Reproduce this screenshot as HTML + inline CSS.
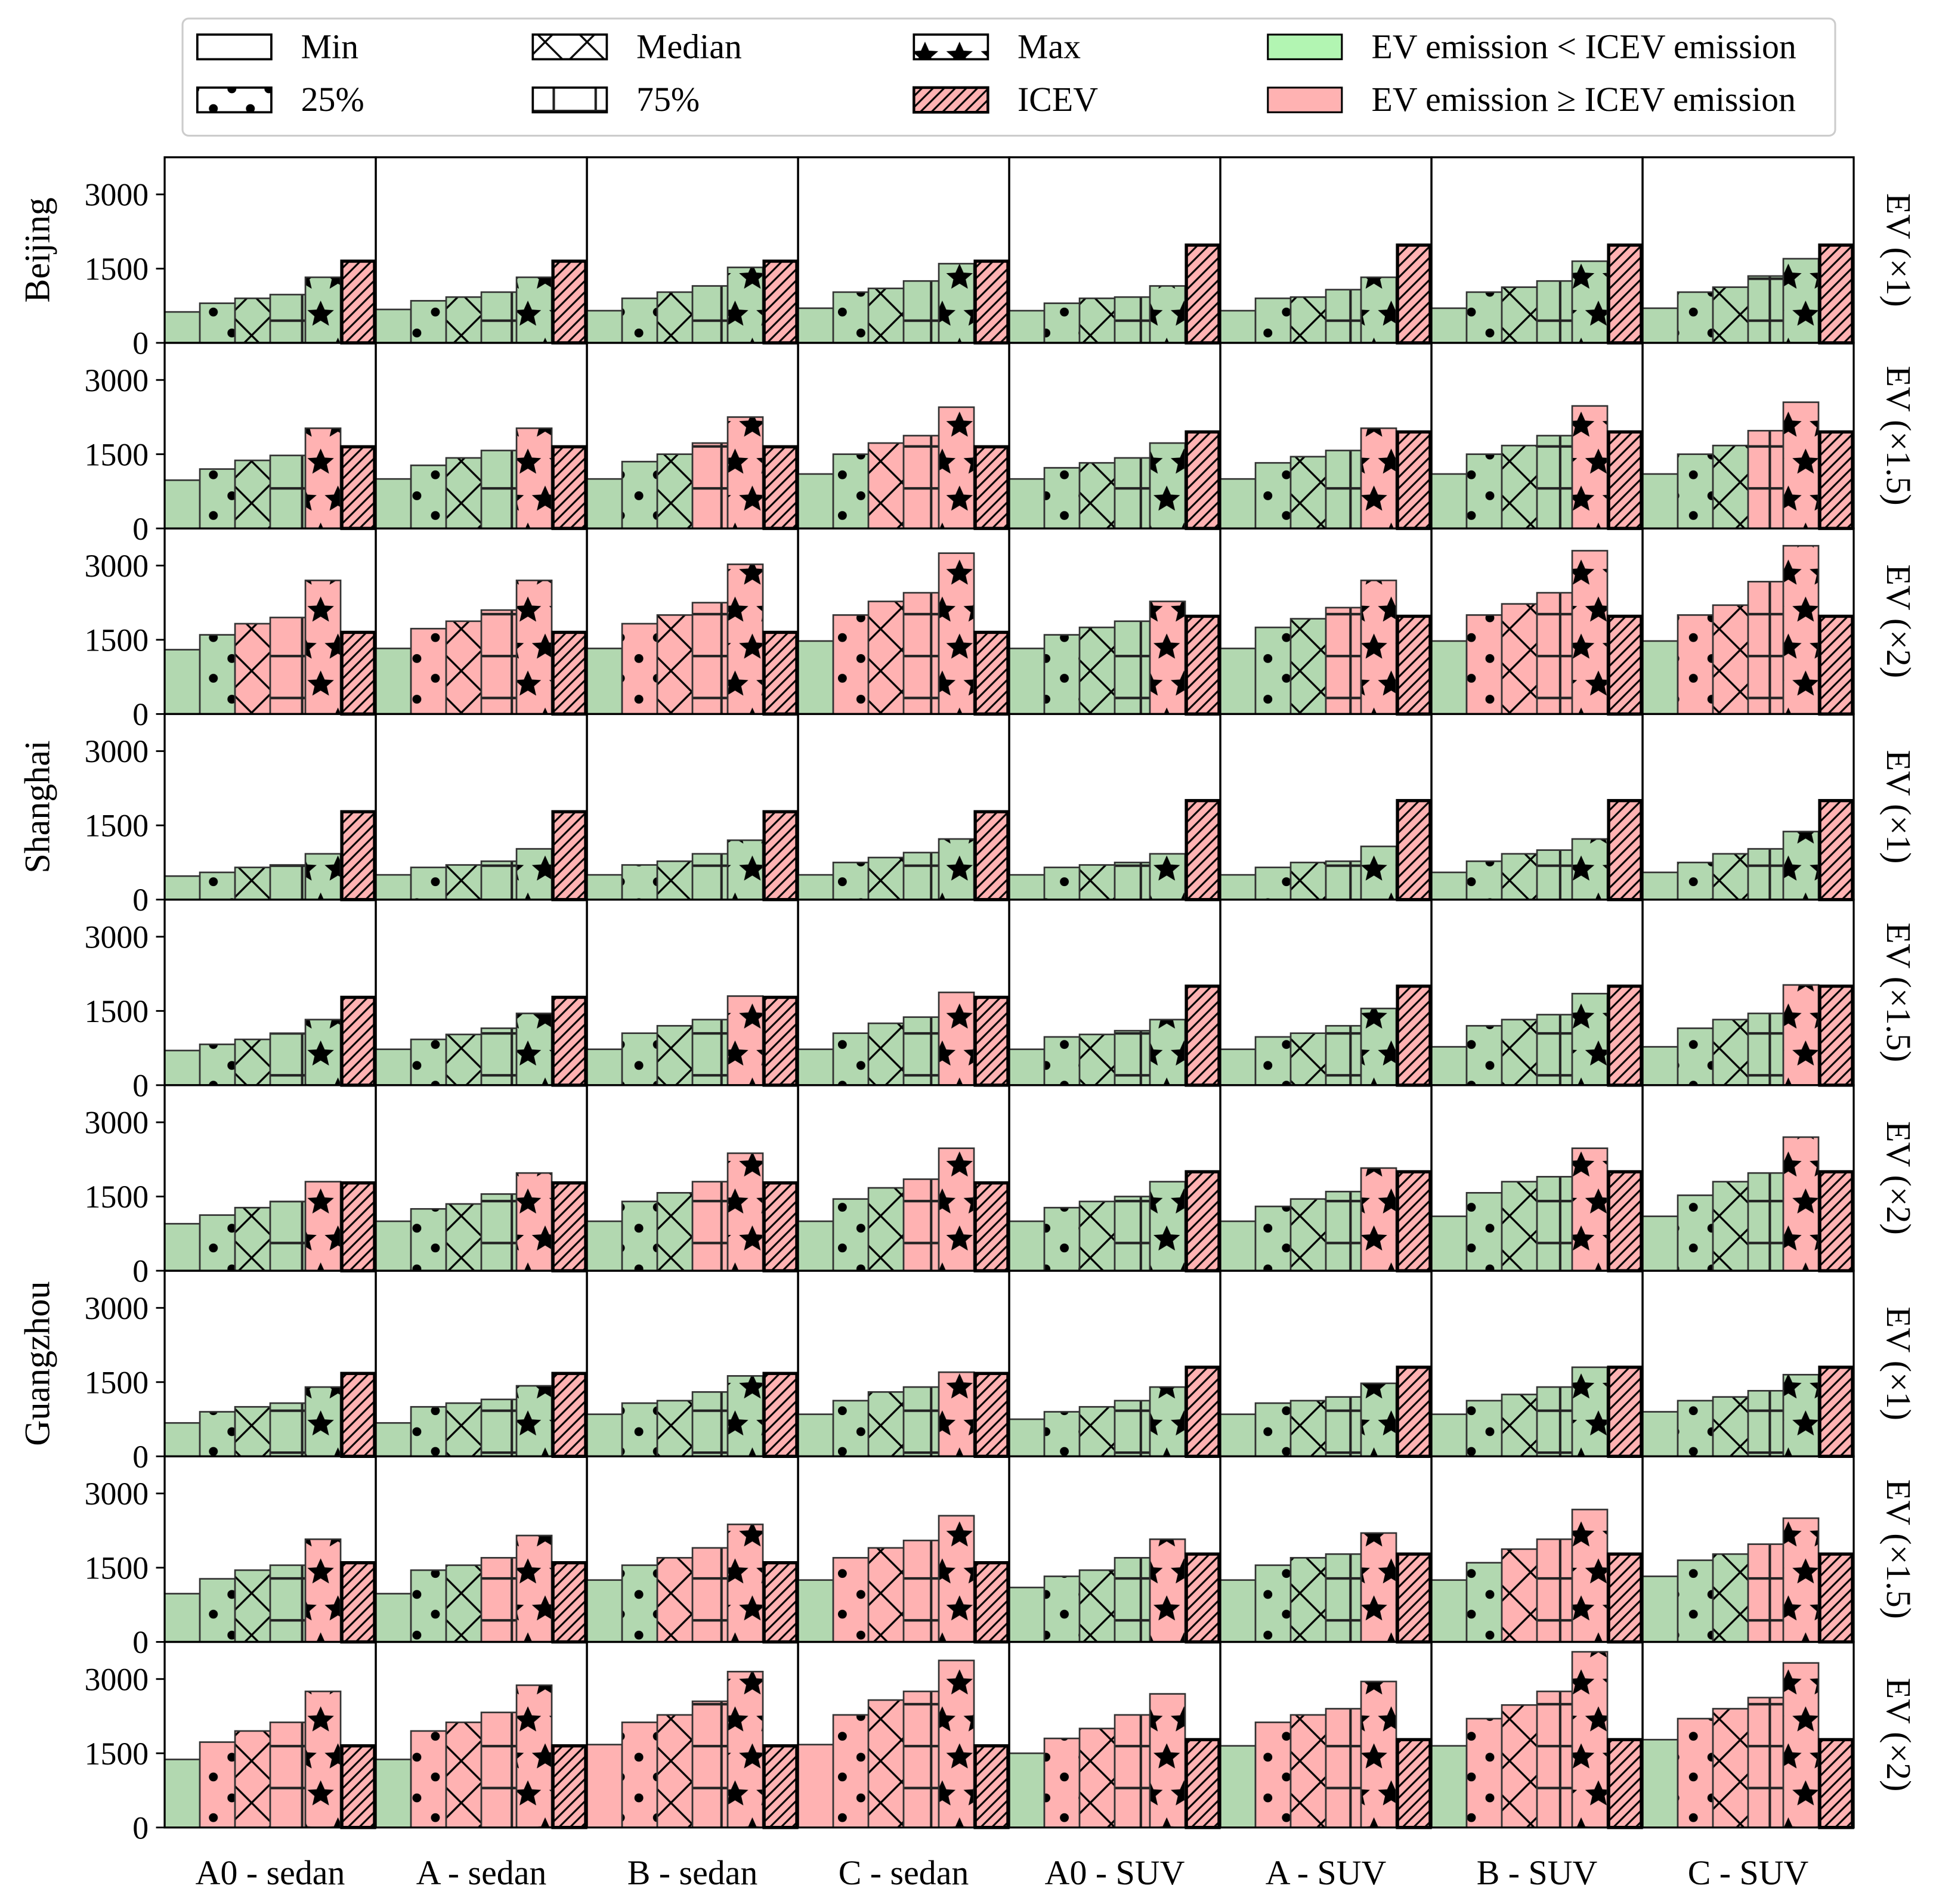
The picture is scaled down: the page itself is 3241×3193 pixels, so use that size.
<!DOCTYPE html>
<html><head><meta charset="utf-8"><style>
html,body{margin:0;padding:0;background:#fff}
svg{display:block}
text{font-family:"Liberation Serif",serif;fill:#000}
</style></head><body>
<svg id="chart" xmlns="http://www.w3.org/2000/svg" width="3241" height="3193" viewBox="0 0 1567.3 1544">
<defs>
<pattern id="pDots" patternUnits="userSpaceOnUse" width="30" height="33" x="0" y="0">
<circle cx="8" cy="6" r="3.6" fill="#000"/><circle cx="23" cy="22" r="3.6" fill="#000"/>
</pattern>
<pattern id="pX" patternUnits="userSpaceOnUse" width="34" height="34">
<path d="M0,0L34,34M34,0L0,34" stroke="#000" stroke-width="1.6"/>
</pattern>
<pattern id="pPlus" patternUnits="userSpaceOnUse" width="34" height="34">
<path d="M7,0V34M0,22H34" stroke="#222" stroke-width="2"/>
</pattern>
<pattern id="pStar" patternUnits="userSpaceOnUse" width="28" height="60">
<g transform="translate(8,15) scale(1.25)"><path d="M0,-9L2.6,-3.2L8.6,-2.8L4,1.2L5.4,7.3L0,4L-5.4,7.3L-4,1.2L-8.6,-2.8L-2.6,-3.2Z" fill="#000"/></g>
<g transform="translate(22,45) scale(1.25)"><path d="M0,-9L2.6,-3.2L8.6,-2.8L4,1.2L5.4,7.3L0,4L-5.4,7.3L-4,1.2L-8.6,-2.8L-2.6,-3.2Z" fill="#000"/></g>
<g transform="translate(-6,45) scale(1.25)"><path d="M0,-9L2.6,-3.2L8.6,-2.8L4,1.2L5.4,7.3L0,4L-5.4,7.3L-4,1.2L-8.6,-2.8L-2.6,-3.2Z" fill="#000"/></g>
<g transform="translate(36,15) scale(1.25)"><path d="M0,-9L2.6,-3.2L8.6,-2.8L4,1.2L5.4,7.3L0,4L-5.4,7.3L-4,1.2L-8.6,-2.8L-2.6,-3.2Z" fill="#000"/></g>
</pattern>
<pattern id="pDiag" patternUnits="userSpaceOnUse" width="9" height="9">
<path d="M-2,11L11,-2M-2,2L2,-2M7,11L11,7" stroke="#000" stroke-width="1.5"/>
</pattern>
</defs>
<g id="legend"></g>
<g id="plots"></g>
</svg>
<script>
const columns = ["A0 - sedan","A - sedan","B - sedan","C - sedan","A0 - SUV","A - SUV","B - SUV","C - SUV"];
const cities = ["Beijing","Shanghai","Guangzhou"];
const scenarios = ["EV (×1)","EV (×1.5)","EV (×2)"];
const yTicks = [0,1500,3000];
const minVals = [
[625,675,650,700,650,650,700,700],
[975,1000,1000,1100,1000,1000,1100,1100],
[1300,1325,1325,1475,1325,1325,1475,1475],
[475,500,500,500,500,500,550,550],
[700,725,725,725,725,725,775,775],
[950,1000,1000,1000,1000,1000,1100,1100],
[675,675,850,850,750,850,850,900],
[975,975,1250,1250,1100,1250,1250,1325],
[1375,1375,1675,1675,1500,1650,1650,1775]];
const p25Vals = [
[800,850,900,1025,800,900,1025,1025],
[1200,1275,1350,1500,1225,1325,1500,1500],
[1600,1725,1825,2000,1600,1750,2000,2000],
[550,650,700,750,650,650,775,750],
[825,925,1050,1050,975,975,1200,1150],
[1125,1250,1400,1450,1275,1300,1575,1525],
[900,1000,1075,1125,900,1075,1125,1125],
[1275,1450,1550,1700,1325,1550,1600,1650],
[1725,1950,2125,2275,1800,2125,2200,2200]];
const medVals = [
[900,925,1025,1100,900,925,1125,1125],
[1375,1425,1500,1725,1325,1450,1675,1675],
[1825,1875,2000,2275,1750,1925,2225,2200],
[650,700,775,850,700,750,925,925],
[925,1025,1200,1250,1025,1050,1325,1325],
[1275,1350,1575,1675,1400,1450,1800,1800],
[1000,1075,1125,1300,1000,1125,1250,1200],
[1450,1550,1700,1900,1450,1700,1875,1775],
[1950,2125,2275,2575,2000,2275,2475,2400]];
const p75Vals = [
[975,1025,1150,1250,925,1075,1250,1350],
[1475,1575,1725,1875,1425,1575,1875,1975],
[1950,2100,2250,2450,1875,2150,2450,2675],
[700,775,925,950,750,775,1000,1025],
[1050,1150,1325,1375,1100,1200,1425,1450],
[1400,1550,1800,1850,1500,1600,1900,1975],
[1075,1150,1300,1400,1125,1200,1400,1325],
[1550,1700,1900,2050,1700,1775,2075,1975],
[2125,2325,2550,2750,2275,2400,2750,2625]];
const maxVals = [
[1325,1325,1525,1600,1150,1325,1650,1700],
[2025,2025,2250,2450,1725,2025,2475,2550],
[2700,2700,3025,3250,2275,2700,3300,3400],
[925,1025,1200,1225,925,1075,1225,1375],
[1325,1450,1800,1875,1325,1550,1850,2025],
[1800,1975,2375,2475,1800,2075,2475,2700],
[1400,1425,1625,1700,1400,1475,1800,1650],
[2075,2150,2375,2550,2075,2200,2675,2500],
[2750,2875,3150,3375,2700,2950,3550,3325]];
const icevVals = [
[1675,1675,1675,1675,2000,2000,2000,2000],
[1675,1675,1675,1675,1975,1975,1975,1975],
[1675,1675,1675,1675,2000,2000,2000,2000],
[1800,1800,1800,1800,2025,2025,2025,2025],
[1800,1800,1800,1800,2025,2025,2025,2025],
[1800,1800,1800,1800,2025,2025,2025,2025],
[1700,1700,1700,1700,1825,1825,1825,1825],
[1625,1625,1625,1625,1800,1800,1800,1800],
[1675,1675,1675,1675,1800,1800,1800,1800]];

const NS="http://www.w3.org/2000/svg";
const X0=133.5, X1=1503, Y0=127.5, Y1=1482, YMAX=3750;
const CW=(X1-X0)/8, RH=(Y1-Y0)/9, BW=CW/6;
const GREEN="#b2d8b0", RED="#ffb2b2";
function mk(tag,attrs,parent){const e=document.createElementNS(NS,tag);for(const k in attrs)e.setAttribute(k,attrs[k]);parent.appendChild(e);return e;}
function yScale(r,v){return Y0+(r+1)*RH - v/YMAX*RH;}
function xScale(c,i){return X0+c*CW+i*BW;}
const plots=document.getElementById('plots');
const series=[minVals,p25Vals,medVals,p75Vals,maxVals];
const pats=[null,"url(#pDots)","url(#pX)","url(#pPlus)","url(#pStar)"];
const snames=["min","p25","median","p75","max"];
for(let r=0;r<9;r++){
  for(let c=0;c<8;c++){
    const g=mk('g',{},plots);
    
    
    const icev=icevVals[r][c];
    for(let s=0;s<5;s++){
      const v=series[s][r][c];
      const y=yScale(r,v), yb=yScale(r,0), x=xScale(c,s);
      const col=v>=icev?RED:GREEN;
      const b=mk('rect',{x:x,y:y,width:BW,height:yb-y,fill:col,stroke:"none"},g);
      
      
      if(pats[s]){mk('rect',{x:x,y:y,width:BW,height:yb-y,fill:pats[s]},g);}
      mk('rect',{x:x,y:y,width:BW,height:yb-y,fill:"none",stroke:"#333",'stroke-width':1.3},g);
    }
    const v=icev, y=yScale(r,v), yb=yScale(r,0), x=xScale(c,5);
    const b=mk('rect',{x:x,y:y,width:BW,height:yb-y,fill:RED},g);
    
    
    mk('rect',{x:x,y:y,width:BW,height:yb-y,fill:"url(#pDiag)"},g);
    mk('rect',{x:x+1,y:y+1,width:BW-2,height:yb-y-1,fill:"none",stroke:"#000",'stroke-width':2.6},g);
    const fr=mk('rect',{x:X0+c*CW,y:Y0+r*RH,width:CW,height:RH,fill:"none",stroke:"#000",'stroke-width':1.6},g);
    
    
  }
  for(const t of yTicks){
    const y=yScale(r,t);
    mk('line',{x1:X0-7,x2:X0,y1:y,y2:y,stroke:"#000",'stroke-width':1.4},plots);
    const tx=mk('text',{x:X0-13,y:y+9,'text-anchor':'end','font-size':26},plots);
    tx.textContent=t;
    
    
  }
  const rl=mk('text',{transform:'translate(1530,'+(Y0+r*RH+RH/2)+') rotate(90)','text-anchor':'middle','font-size':28},plots);
  rl.textContent=scenarios[r%3];
  
  
}
for(let k=0;k<3;k++){
  const cy=Y0+(k*3)*RH+RH*0.5;
  const t=mk('text',{transform:'translate(40,'+cy+') rotate(-90)','text-anchor':'middle','font-size':29},plots);
  t.textContent=cities[k];
  
  
}
for(let c=0;c<8;c++){
  const t=mk('text',{x:X0+c*CW+CW/2,y:1528,'text-anchor':'middle','font-size':28},plots);
  t.textContent=columns[c];
  
  
}
// legend
const lg=document.getElementById('legend');
mk('rect',{x:148,y:15,width:1340,height:95,rx:5,fill:"#fff",stroke:"#ccc",'stroke-width':1.5},lg);
const legItems=[
 ["Min",160,28,"#fff",null,1.8],["25%",160,71,"#fff","url(#pDots)",1.8],
 ["Median",432,28,"#fff","url(#pX)",1.8],["75%",432,71,"#fff","url(#pPlus)",1.8],
 ["Max",741,28,"#fff","url(#pStar)",1.8],["ICEV",741,71,RED,"url(#pDiag)",2.2],
 ["EV emission < ICEV emission",1028,28,"#b2f5b2",null,1.5],["EV emission ≥ ICEV emission",1028,71,RED,null,1.5]];
for(const it of legItems){
  const g=mk('g',{},lg);
  
  
  mk('rect',{x:it[1],y:it[2],width:60,height:20,fill:it[3]},g);
  if(it[4])mk('rect',{x:it[1],y:it[2],width:60,height:20,fill:it[4]},g);
  mk('rect',{x:it[1],y:it[2],width:60,height:20,fill:"none",stroke:"#000",'stroke-width':it[5]},g);
  const t=mk('text',{x:it[1]+84,y:it[2]+19,'font-size':28},g);
  t.textContent=it[0];
}
</script>
</body></html>
